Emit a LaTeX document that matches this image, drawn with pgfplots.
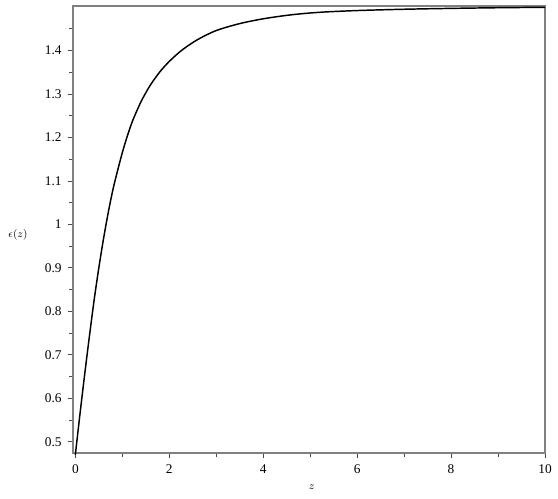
\documentclass[border=0pt]{standalone}
\usepackage{fontspec}
\setmainfont{Liberation Serif}
\usepackage{pgfplots}
\pgfplotsset{compat=1.18}
\definecolor{spine}{HTML}{808080}

\begin{document}
\begin{tikzpicture}
\begin{axis}[
  scale only axis,
  width=354pt, height=335.25pt,
  xmin=-0.05, xmax=10,
  ymin=0.474, ymax=1.5025,
  axis line style={spine, line width=1.1pt},
  xtick={0,2,4,6,8,10},
  minor xtick={1,3,5,7,9},
  ytick={0.5,0.6,...,1.41},
  minor ytick={0.55,0.65,...,1.46},
  tick align=outside,
  tick pos=left,
  major tick length=4pt,
  minor tick length=3pt,
  every tick/.style={black!70, line width=0.6pt},
  tick label style={font=\normalsize},
  xticklabel style={yshift=-1pt},
  yticklabel style={xshift=-1pt},
  /pgf/number format/assume math mode=true,
  yticklabel={\pgfmathprintnumber[fixed, precision=1]{\tick}},
  clip=false,
]
\addplot[black, line width=1.1pt, smooth] coordinates {
  (0,0.470) (0.1,0.565) (0.2,0.656) (0.3,0.743) (0.4,0.826) (0.5,0.900)
  (0.6,0.967) (0.7,1.027) (0.8,1.080) (0.9,1.124) (1.0,1.165) (1.1,1.201)
  (1.2,1.233) (1.3,1.259) (1.42,1.287) (1.6,1.321) (1.8,1.351) (2.0,1.375)
  (2.27,1.401) (2.6,1.425) (3.0,1.446) (3.5,1.462) (4.0,1.473) (4.58,1.482)
  (5.2,1.488) (6.0,1.492) (7.0,1.495) (8.0,1.497) (9.0,1.4985) (10,1.4995)
};
\node[font=\footnotesize] at (axis description cs:-0.1165,0.488) {$\epsilon(z)$};
\node[font=\footnotesize] at (axis description cs:0.506,-0.076) {$z$};
\end{axis}
\path (current axis.south west) ++(-54.75pt,-33.75pt) rectangle ([shift={(9.75pt,4.5pt)}]current axis.north east);
\end{tikzpicture}
\end{document}
